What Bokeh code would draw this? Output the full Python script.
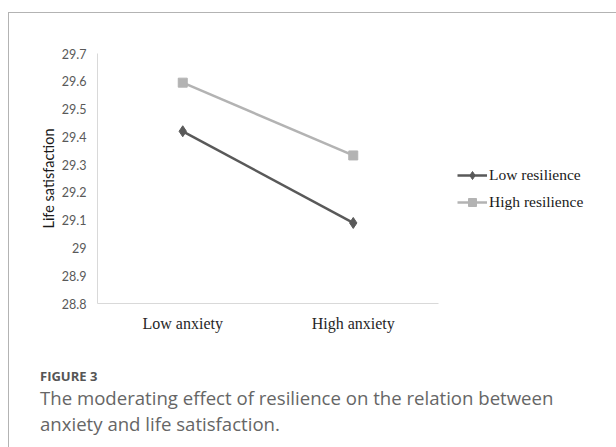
from bokeh.plotting import figure
from bokeh.models import (FactorRange, Range1d, FixedTicker, CustomJSTickFormatter,
                          Legend, LegendItem, Div)
from bokeh.layouts import column
from bokeh.embed import file_html
from bokeh.resources import INLINE

categories = ["Low anxiety", "High anxiety"]
low_resilience = [29.42, 29.09]
high_resilience = [29.595, 29.333]
y_ticks = [28.8, 28.9, 29.0, 29.1, 29.2, 29.3, 29.4, 29.5, 29.6, 29.7]
series_names = ["Low resilience", "High resilience"]
caption_head = "FIGURE 3"
caption_lines = ["The moderating effect of resilience on the relation between",
                 "anxiety and life satisfaction."]

p = figure(x_range=FactorRange(*categories, range_padding=0), y_range=Range1d(28.8, 29.7),
           frame_width=341, frame_height=250, width=607, height=330,
           min_border_left=88, min_border_right=178, min_border_top=40, min_border_bottom=40,
           output_backend="svg", toolbar_location=None)
p.outline_line_color = None
p.xgrid.grid_line_color = None
p.ygrid.grid_line_color = None
p.background_fill_color = "white"
p.border_fill_color = "white"

for ax in (p.xaxis[0], p.yaxis[0]):
    ax.axis_line_color = "#d9d9d9"
    ax.axis_line_width = 1
    ax.major_tick_line_color = None
    ax.minor_tick_line_color = None
    ax.major_tick_out = 0
    ax.major_tick_in = 0

p.yaxis.ticker = FixedTicker(ticks=y_ticks)
p.yaxis.formatter = CustomJSTickFormatter(code="return (Math.round(tick*10)/10).toString();")
p.yaxis.major_label_text_font = "Lato"
p.yaxis.major_label_text_font_size = "12.5px"
p.yaxis.major_label_text_color = "#595959"
p.yaxis.major_label_standoff = 11
p.yaxis.axis_label = "Life satisfaction"
p.yaxis.axis_label_text_font = "Lato"
p.yaxis.axis_label_text_font_style = "normal"
p.yaxis.axis_label_text_font_size = "14.5px"
p.yaxis.axis_label_text_color = "#1a1a1a"
p.yaxis.axis_label_standoff = 2

p.xaxis.major_label_text_font = "Liberation Serif"
p.xaxis.major_label_text_font_size = "16px"
p.xaxis.major_label_text_color = "#262626"
p.xaxis.major_label_standoff = 11

r1l = p.line(categories, low_resilience, line_color="#595959", line_width=2.5)
r1m = p.scatter(categories, low_resilience, marker="diamond", size=11,
                fill_color="#595959", line_color="#595959")
r2l = p.line(categories, high_resilience, line_color="#b3b3b3", line_width=2.5)
r2m = p.scatter(categories, high_resilience, marker="square", size=9,
                fill_color="#b3b3b3", line_color="#b3b3b3")

legend = Legend(items=[LegendItem(label=series_names[0], renderers=[r1l, r1m]),
                       LegendItem(label=series_names[1], renderers=[r2l, r2m])],
                location=(19, 91), orientation="vertical",
                glyph_width=30, glyph_height=20, label_height=20, spacing=7,
                label_standoff=2, padding=0, margin=0,
                label_text_font="Liberation Serif", label_text_font_size="15.5px",
                label_text_color="#1a1a1a",
                border_line_color=None, background_fill_alpha=0)
p.add_layout(legend, "right")

cap_html = (
    '<div style="font-family:\'Open Sans\';font-weight:bold;font-size:13px;'
    'line-height:16px;color:#555555;">' + caption_head + '</div>'
    '<div style="font-family:\'Open Sans\';font-size:18.6px;line-height:26px;'
    'color:#666666;margin-top:1px;">' + caption_lines[0] + '<br>' + caption_lines[1] + '</div>'
)
cap = Div(text=cap_html, width=607, height=104,
          styles={"padding-left": "26px", "padding-top": "20px", "box-sizing": "border-box"})

layout = column(p, cap, spacing=0)
layout.styles = {"margin-left": "8px", "margin-top": "12px",
                 "border-top": "1px solid #b3b3b3", "border-left": "1px solid #b3b3b3"}

open("out.html", "w").write(file_html(layout, INLINE))
